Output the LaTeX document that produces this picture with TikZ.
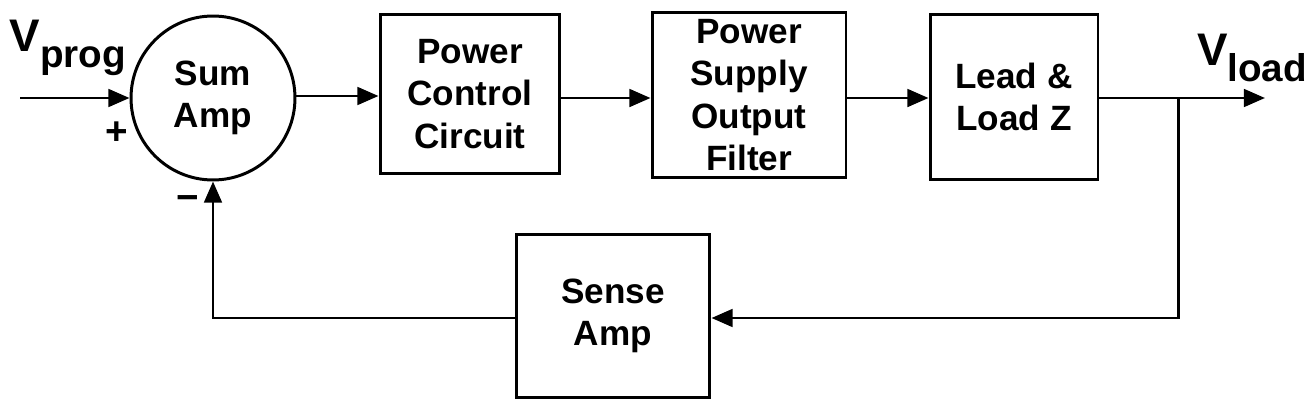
\documentclass[tikz,border=0pt]{standalone}
\usepackage{fontspec}
\setmainfont{Liberation Sans}
\usetikzlibrary{arrows.meta}
\begin{document}
\begin{tikzpicture}[x=0.02cm,y=-0.02cm,>={Triangle[length=12pt,width=10pt]},
	line width=1.7pt,
	block/.style={draw,align=center,font=\bfseries\fontsize{20}{24}\selectfont},
	lbl/.style={font=\bfseries\fontsize{22}{24}\selectfont}]
	
	\useasboundingbox (0,0) rectangle (1311,409);
	
	\node[block,circle,minimum size=3.28cm,inner sep=0pt] (sum) at (213,98) {Sum\\Amp};
	\node[block,minimum width=3.6cm,minimum height=3.18cm] (pcc) at (470,94) {Power\\Control\\Circuit};
	\node[block,minimum width=3.88cm,minimum height=3.32cm] (psof) at (749,95) {Power\\Supply\\Output\\Filter};
	\node[block,minimum width=3.36cm,minimum height=3.32cm] (lead) at (1014,97) {Lead \&\\Load Z};
	\node[block,minimum width=3.88cm,minimum height=3.28cm] (sense) at (613,316) {Sense\\Amp};
	
	\coordinate (in) at (20,98);
	\coordinate (out) at (1265,98);
	\coordinate (tap) at (1178,98);
	\coordinate (tapdown) at (1178,318);
	\coordinate (back) at (213,318);
	
	\node[lbl,font=\bfseries\fontsize{26}{28}\selectfont] (vprog) at (68,48) {V\raisebox{-9pt}{\fontsize{22}{24}\selectfont prog}};
	\node[lbl,font=\bfseries\fontsize{26}{28}\selectfont] (vload) at (1252,58) {V\raisebox{-9pt}{\fontsize{22}{24}\selectfont load}};
	\node[lbl] (plus) at (117,133) {+};
	\node[lbl] (minus) at (188,203) {\textminus};
	
	\draw[->] (in) -- (sum.west);
	\draw[->] (sum.east |- 0,96) -- (pcc.west |- 0,96);
	\draw[->] (pcc.east |- 0,98) -- (psof.west |- 0,98);
	\draw[->] (psof.east |- 0,98) -- (lead.west |- 0,98);
	\draw[->] (lead.east |- 0,98) -- (out);
	\draw[->] (tap) -- (tapdown) -- (sense.east |- tapdown);
	\draw[->] (sense.west |- back) -- (back) -- (sum.south);
\end{tikzpicture}
\end{document}
